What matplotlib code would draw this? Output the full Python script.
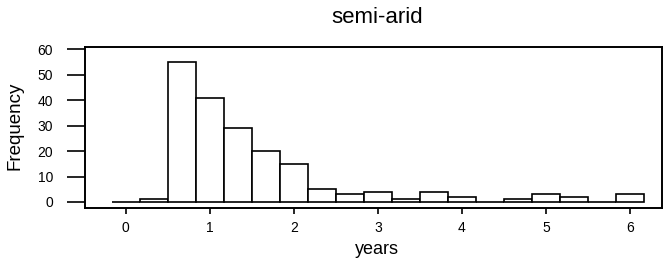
import numpy as np
import matplotlib
matplotlib.use("Agg")
import matplotlib.pyplot as plt

plt.rcParams["font.family"] = ["Liberation Sans", "DejaVu Sans"]

# histogram of years, bins of width 1/3 centred on 0, 1/3, 2/3, ..., 6
bin_width = 1 / 3
counts = [0, 1, 55, 41, 29, 20, 15, 5, 3, 4, 1, 4, 2, 0, 1, 3, 2, 0, 3]
x_ticks = [0, 1, 2, 3, 4, 5, 6]
y_ticks = [0, 10, 20, 30, 40, 50, 60]

centers = np.arange(len(counts)) * bin_width

fig = plt.figure(figsize=(6.64, 2.63), dpi=100)
ax = fig.add_axes([0.128, 0.209, 0.869, 0.613])

ax.bar(centers, counts, width=bin_width, color="white", edgecolor="black", linewidth=1.2)

ax.set_xlim(-0.485, 6.38)
ax.set_ylim(-2.4, 61)
ax.set_xticks(x_ticks)
ax.set_yticks(y_ticks)
ax.tick_params(axis="y", length=13, width=1.2, labelsize=10, pad=10)
ax.tick_params(axis="x", length=4, width=1.2, labelsize=10, pad=5)
for s in ax.spines.values():
    s.set_linewidth(1.4)

ax.set_xlabel("years", fontsize=13, va="center")
ax.xaxis.set_label_coords(0.506, -0.26)
ax.set_ylabel("Frequency", fontsize=13.5, va="center")
ax.yaxis.set_label_coords(-0.121, 0.51)
fig.text(0.568, 0.935, "semi-arid", ha="center", va="center", fontsize=16)

fig.savefig("out.png", dpi=100)
